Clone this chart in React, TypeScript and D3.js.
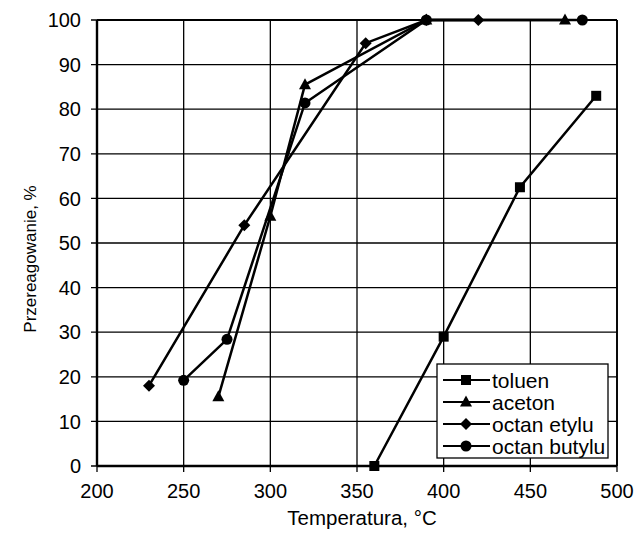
import React from "react";
import * as d3 from "d3";

const xTicks = [200, 250, 300, 350, 400, 450, 500];
const yTicks = [0, 10, 20, 30, 40, 50, 60, 70, 80, 90, 100];

const toluenX = [360, 400, 444, 488];
const toluenY = [0, 29, 62.5, 83];
const acetonX = [270, 300, 320, 390, 470];
const acetonY = [15.5, 56, 85.5, 100, 100];
const etyluX = [230, 285, 355, 390, 420];
const etyluY = [18, 54, 94.8, 100, 100];
const butyluX = [250, 275, 320, 390, 480];
const butyluY = [19.2, 28.4, 81.4, 100, 100];

const seriesNames = ["toluen", "aceton", "octan etylu", "octan butylu"];
const markers = ["square", "triangle", "diamond", "circle"];

const W = 636, H = 534;
const L = 97, R = 617, T = 20, B = 466;

function Marker({ type, x, y }: { type: string; x: number; y: number }) {
  if (type === "square") return <rect x={x - 5} y={y - 5} width={10} height={10} fill="#000" />;
  if (type === "triangle") return <path d={`M${x},${y - 6.5}L${x + 6},${y + 4.5}L${x - 6},${y + 4.5}Z`} fill="#000" />;
  if (type === "diamond") return <path d={`M${x},${y - 6}L${x + 6},${y}L${x},${y + 6}L${x - 6},${y}Z`} fill="#000" />;
  return <circle cx={x} cy={y} r={5.5} fill="#000" />;
}

export default function App() {
  const x = d3.scaleLinear().domain([200, 500]).range([L, R]);
  const y = d3.scaleLinear().domain([0, 100]).range([B, T]);
  const series = [
    [toluenX, toluenY],
    [acetonX, acetonY],
    [etyluX, etyluY],
    [butyluX, butyluY],
  ];
  const line = d3.line<[number, number]>().x((d) => x(d[0])).y((d) => y(d[1]));
  const font = "'Liberation Sans', Arial, sans-serif";
  const lx = 437, ly = 364, lw = 171, lh = 94;
  return (
    <svg width={W} height={H} style={{ position: "absolute", left: 0, top: 0, background: "#fff" }} fontFamily={font}>
      <rect x={0} y={0} width={W} height={H} fill="#fff" />
      {xTicks.map((t) => (
        <line key={"gx" + t} x1={x(t)} x2={x(t)} y1={T} y2={B + 6} stroke="#000" strokeWidth={1.3} />
      ))}
      {yTicks.map((t) => (
        <line key={"gy" + t} x1={L - 6} x2={R} y1={y(t)} y2={y(t)} stroke="#000" strokeWidth={1.3} />
      ))}
      <line x1={L} x2={L} y1={T} y2={B} stroke="#000" strokeWidth={2.4} />
      <line x1={L} x2={R} y1={B} y2={B} stroke="#000" strokeWidth={2.4} />
      <line x1={L} x2={R} y1={T} y2={T} stroke="#000" strokeWidth={1.8} />
      <line x1={R} x2={R} y1={T} y2={B} stroke="#000" strokeWidth={1.8} />
      {yTicks.map((t) => (
        <text key={"ty" + t} x={L - 16} y={y(t)} dy="0.36em" textAnchor="end" fontSize={20}>{t}</text>
      ))}
      {xTicks.map((t) => (
        <text key={"tx" + t} x={x(t)} y={498} textAnchor="middle" fontSize={20}>{t}</text>
      ))}
      <text x={362} y={525} textAnchor="middle" fontSize={20.5}>Temperatura, °C</text>
      <text transform={`translate(36,259) rotate(-90)`} textAnchor="middle" fontSize={17}>Przereagowanie, %</text>
      {series.map((s, i) => {
        const pts = s[0].map((v, j) => [v, s[1][j]] as [number, number]);
        return (
          <g key={"s" + i}>
            <path d={line(pts) || ""} fill="none" stroke="#000" strokeWidth={2.5} />
            {pts.map((p, j) => <Marker key={j} type={markers[i]} x={x(p[0])} y={y(p[1])} />)}
          </g>
        );
      })}
      <rect x={lx} y={ly} width={lw} height={lh} fill="#fff" stroke="#000" strokeWidth={1.3} />
      {seriesNames.map((n, i) => {
        const yy = ly + 16 + i * 22;
        return (
          <g key={"l" + i}>
            <line x1={lx + 6} x2={lx + 53} y1={yy} y2={yy} stroke="#000" strokeWidth={2.2} />
            <Marker type={markers[i]} x={lx + 29} y={yy} />
            <text x={lx + 55} y={yy} dy="0.36em" fontSize={21}>{n}</text>
          </g>
        );
      })}
    </svg>
  );
}
